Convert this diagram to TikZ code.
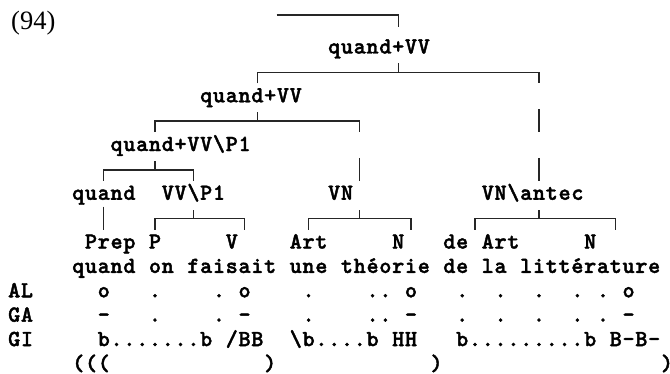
\documentclass[tikz,border=0pt]{standalone}
\usepackage{fontspec}
\newfontfamily\serifnum{Liberation Serif}
\newfontfamily\monob{lmmonolt10-bold.otf}[FakeBold=1.8]
\newlength\cw
\setlength\cw{12.8pt}
\makeatletter
\newcommand\mt[1]{\@tfor\mt@c:=#1\do{\makebox[\cw][c]{\mt@c}}}
\makeatother
\tikzset{
  tok/.style={anchor=base west, inner sep=0pt, outer sep=0pt, yshift=-5.5pt,
    font={\monob\fontsize{23pt}{23pt}\selectfont}},
  boxln/.style={line width=1.3pt, black!85},
}
% tree bar: row, left col, middle col, right col
\newcommand\tbar[4]{%
  \draw[boxln] (#2+.5,#1+.45) -- (#2+.5,#1) -- (#4+.5,#1) -- (#4+.5,#1+.45);
  \draw[boxln] (#3+.5,#1) -- (#3+.5,#1-.37);}
% vertical bar: row, col
\newcommand\vbar[2]{\draw[boxln] (#2+.5,#1-.49) -- (#2+.5,#1+.45);}
\begin{document}
\begin{tikzpicture}[x=1pt,y=1pt]
\useasboundingbox (0,0) rectangle (670,-374);
\node[anchor=base west, inner sep=0pt, font={\serifnum\fontsize{26.5pt}{26.5pt}\selectfont}] (ex) at (11,-30) {(94)};
\begin{scope}[shift={(7.8pt,-48pt)}, x=12.8pt, y=-24.38pt]
  % top bar
  \draw[boxln] (21,-1.354) -- (30.5,-1.354) -- (30.5,-0.861);
  % tree labels
  \node[tok] (n0) at (25,0) {\mt{quand+VV}};
  \tbar{1}{19}{30}{41}
  \node[tok] (n2) at (15,2) {\mt{quand+VV}};
  \tbar{3}{11}{19}{27}
  \vbar{3}{41}
  \node[tok] (n4) at (8,4) {\mt{quand+VV\textbackslash P1}};
  \tbar{5}{7}{11}{14}
  \vbar{5}{27}
  \vbar{5}{41}
  \node[tok] (q6) at (5,6) {\mt{quand}};
  \node[tok] (v6) at (12,6) {\mt{VV\textbackslash P1}};
  \node[tok] (vn6) at (25,6) {\mt{VN}};
  \node[tok] (va6) at (37,6) {\mt{VN\textbackslash antec}};
  \vbar{7}{7}
  \tbar{7}{11}{14}{18}
  \tbar{7}{23}{27}{31}
  \tbar{7}{36}{41}{47}
  % categories
  \node[tok] (c1) at (6,8) {\mt{Prep}};
  \node[tok] (c2) at (11,8) {\mt{P}};
  \node[tok] (c3) at (17,8) {\mt{V}};
  \node[tok] (c4) at (22,8) {\mt{Art}};
  \node[tok] (c5) at (30,8) {\mt{N}};
  \node[tok] (c6) at (34,8) {\mt{de}};
  \node[tok] (c7) at (37,8) {\mt{Art}};
  \node[tok] (c8) at (45,8) {\mt{N}};
  % text rows
  \node[tok] (w9) at (0,9) {\mt{~~~~~quand~on~faisait~une~théorie~de~la~littérature}};
  \node[tok] (al) at (0,10) {\mt{AL~~~~~o~~~.~~~~.~o~~~~.~~~~..~o~~~.~~.~~.~~.~.~o}};
  \node[tok] (ga) at (0,11) {\mt{GA~~~~~-~~~.~~~~.~-~~~~.~~~~..~-~~~.~~.~~.~~.~.~-}};
  \node[tok] (gi) at (0,12) {\mt{GI~~~~~b.......b~/BB~~\textbackslash b....b~HH~~~b.........b~B-B-}};
  \node[tok] (pr) at (0,13) {\mt{~~~~~(((~~~~~~~~~~~~)~~~~~~~~~~~~)~~~~~~~~~~~~~~~~~)}};
\end{scope}
\end{tikzpicture}
\end{document}
